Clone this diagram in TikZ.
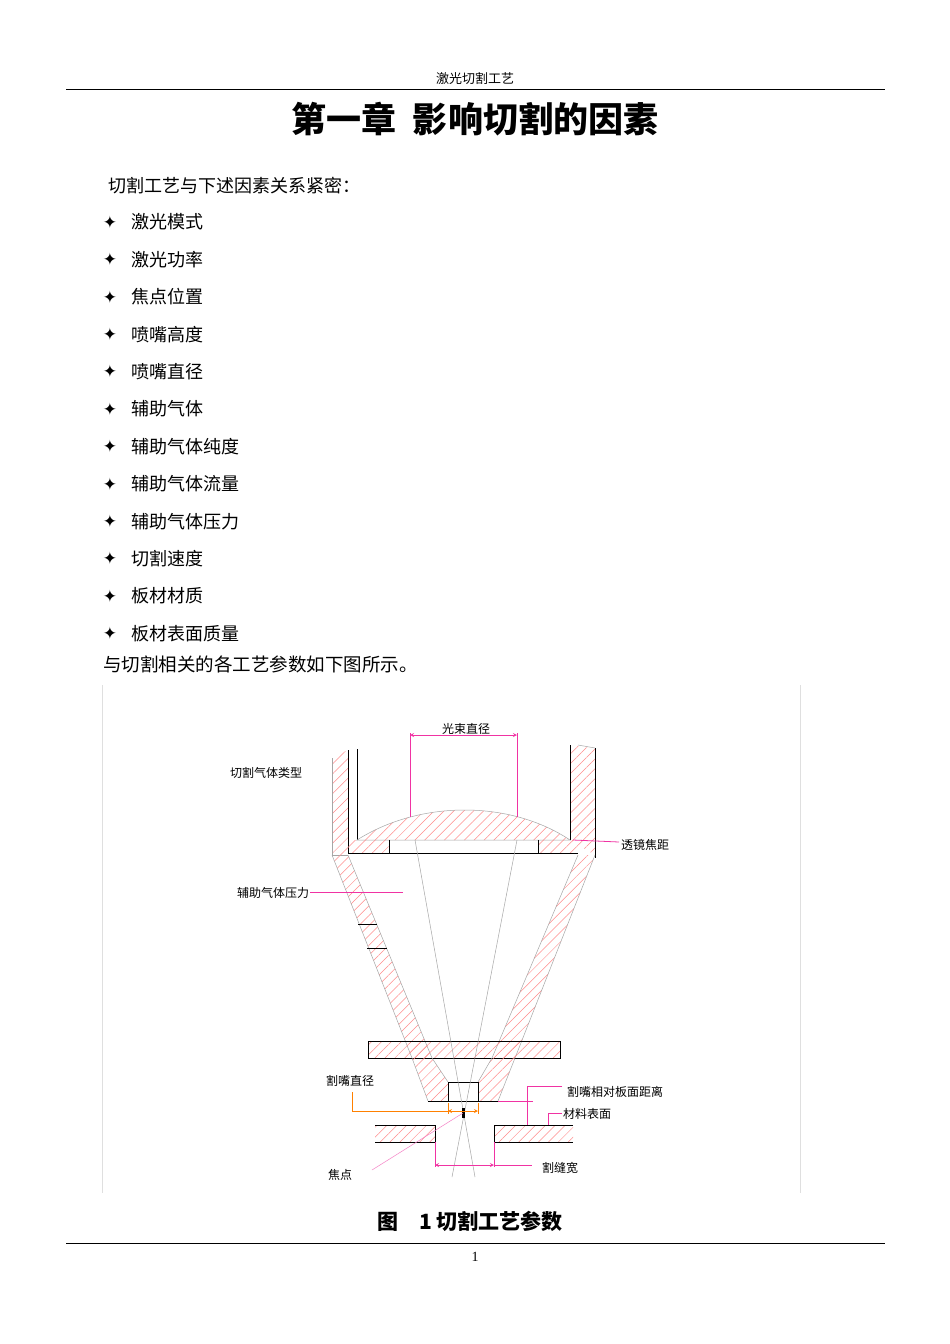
\documentclass[tikz,border=0pt]{standalone}
\usepackage{fontspec}
\setmainfont{Liberation Serif}
\newfontfamily\cjk{Noto Sans CJK SC}
\newfontfamily\dv{DejaVu Sans}
\usetikzlibrary{patterns.meta}
\begin{document}
\begin{tikzpicture}[x=1pt,y=-1pt,
  hat/.style={pattern={Lines[angle=45,distance=7pt,line width=0.5pt]},pattern color=red!45},
  gl/.style={draw=gray!70,line width=0.5pt},
  bl/.style={draw=black,line width=0.9pt},
  mg/.style={draw=magenta!80,line width=0.8pt},
  og/.style={draw=orange,line width=0.8pt},
  lab/.style={font=\cjk\fontsize{12}{12}\selectfont,inner sep=0pt},
  body/.style={font=\cjk\fontsize{18}{18}\selectfont,inner sep=0pt,anchor=west}]
\useasboundingbox (0,0) rectangle (950,1344);
\fill[white] (0,0) rectangle (950,1344);
% header/footer
\node[lab,font=\cjk\fontsize{13}{13}\selectfont] (hd) at (475,79) {激光切割工艺};
\draw[line width=0.8pt] (66,89) -- (885,89);
\node[inner sep=0pt,font=\cjk\bfseries\fontsize{35}{35}\selectfont] (title) at (475,119) {第一章\ \ 影响切割的因素};
\node[body] (intro) at (108,186) {切割工艺与下述因素关系紧密：};
\foreach \t [count=\i from 0] in {激光模式,激光功率,焦点位置,喷嘴高度,喷嘴直径,辅助气体,辅助气体纯度,辅助气体流量,辅助气体压力,切割速度,板材材质,板材表面质量}{
  \node[inner sep=0pt,font=\dv\fontsize{17}{17}\selectfont] (b\i) at (110,{222+37.4*\i}) {✦};
  \node[body] (t\i) at (131,{222+37.4*\i}) {\t};
}
\node[body,font=\cjk\fontsize{18.5}{18.5}\selectfont] (lead) at (103,664) {与切割相关的各工艺参数如下图所示。};
\draw[gray!25] (102,685) -- (102,1193) (800,685) -- (800,1193);
\node[inner sep=0pt,font=\cjk\bfseries\fontsize{21}{21}\selectfont] (cap) at (470,1221) {图\quad 1 切割工艺参数};
\draw[line width=0.8pt] (66,1243) -- (885,1243);
\node[inner sep=0pt,font=\fontsize{14}{14}\selectfont] (pg) at (475,1257) {1};
% walls
\path[hat] (332,758) -- (348,750) -- (348,855) -- (332,855) -- cycle;
\draw[gl] (332,758) -- (332,855) -- (348,855);
\draw[bl] (348,750) -- (348,853) (357,749) -- (357,840);
\path[hat] (570,745) -- (595,748) -- (595,855) -- (570,840) -- cycle;
\draw[bl] (570,745) -- (570,840) (595,748) -- (595,858);
\draw[gl] (578,745) -- (595,748);
% lens
\path[hat] (357,840) .. controls (420,800) and (510,800) .. (570,840) -- cycle;
\draw[gl] (357,840) .. controls (420,800) and (510,800) .. (570,840) -- cycle;
\path[hat] (348,840) rectangle (389,853);
\path[hat] (538,840) rectangle (578,853);
\draw[bl] (348,853) -- (578,853) (389,840) -- (389,853) (538,840) -- (538,853);
% cone
\path[hat] (332,855) -- (348,855) -- (432,1058) -- (412,1058) -- cycle;
\path[hat] (578,855) -- (595,855) -- (515,1058) -- (492,1058) -- cycle;
\draw[gl] (332,855) -- (412,1058) (348,855) -- (432,1058);
\draw[gl] (595,855) -- (515,1058) (578,855) -- (492,1058);
\draw[bl,line width=0.6pt] (358,924) -- (377,924) (367,948) -- (387,948);
% plate
\path[hat] (368,1041) rectangle (560,1058);
\draw[bl] (368,1041) rectangle (560,1058);
% tip
\path[hat] (412,1058) -- (432,1058) -- (448,1082) -- (448,1101) -- (428,1101) -- cycle;
\path[hat] (492,1058) -- (515,1058) -- (498,1101) -- (478,1101) -- (478,1082) -- cycle;
\draw[gl] (412,1058) -- (428,1101) (432,1058) -- (448,1082) (492,1058) -- (478,1082) (515,1058) -- (498,1101);
\draw[bl] (448,1082) rectangle (478,1101);
\draw[bl,line width=0.6pt] (428,1101) -- (498,1101);
% beam
\draw[gl] (415,840) -- (475,1177) (517,840) -- (452,1177);
\fill (462,1108) rectangle (465,1118);
% workpiece
\path[hat] (375,1125) rectangle (435,1142);
\path[hat] (494,1125) rectangle (573,1142);
\draw[bl] (375,1125) -- (435,1125) -- (435,1142) -- (375,1142);
\draw[bl] (573,1125) -- (494,1125) -- (494,1142) -- (573,1142);
% labels
\node[lab] (l1) at (466,729) {光束直径};
\draw[mg] (410,817) -- (410,733) (517,817) -- (517,733);
\draw[mg,<->,>=stealth] (410,735) -- (517,735);
\node[lab] (l2) at (266,773) {切割气体类型};
\node[lab] (l3) at (645,845) {透镜焦距};
\draw[mg] (573,840) -- (619,842);
\node[lab] (l4) at (273,893) {辅助气体压力};
\draw[mg] (310,892) -- (403,892);
\node[lab] (l5) at (350,1081) {割嘴直径};
\draw[og] (352,1092) -- (352,1111) -- (448,1111);
\draw[og] (448,1103) -- (448,1114) (478,1103) -- (478,1114);
\draw[og,<->,>=stealth] (448,1111) -- (478,1111);
\node[lab] (l6) at (615,1092) {割嘴相对板面距离};
\draw[mg] (498,1101) -- (533,1101);
\draw[mg] (562,1086) -- (527,1086) -- (527,1125);
\node[lab] (l7) at (587,1114) {材料表面};
\draw[mg] (562,1113) -- (548,1113) -- (548,1125);
\node[lab] (l8) at (560,1168) {割缝宽};
\draw[mg] (435,1142) -- (435,1167) (494,1142) -- (494,1167);
\draw[mg,<->,>=stealth] (435,1165) -- (494,1165);
\draw[mg] (494,1165) -- (532,1165);
\node[lab] (l9) at (340,1175) {焦点};
\draw[mg,line width=0.5pt,magenta!50] (372,1170) -- (463,1113);
\end{tikzpicture}
\end{document}
